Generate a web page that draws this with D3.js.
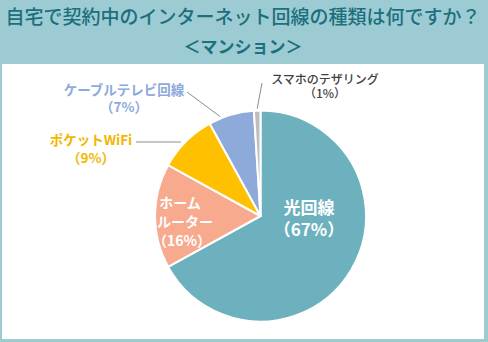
<!DOCTYPE html>
<html><head><meta charset="utf-8">
<script src="https://cdn.jsdelivr.net/npm/d3@7"></script>
<style>
html,body{margin:0;padding:0;background:#9ccbd3;}
svg{display:block;font-family:"Noto Sans CJK JP","Noto Sans",sans-serif;}
</style></head>
<body>
<svg id="c" width="488" height="342"></svg>
<script>
const categories = ["光回線", "ホームルーター", "ポケットWiFi", "ケーブルテレビ回線", "スマホのテザリング"];
const values = [67, 16, 9, 7, 1];
const colors = ["#6cb1bd", "#f8aa8f", "#ffc000", "#8eaadb", "#bfbfbf"];
const title = "自宅で契約中のインターネット回線の種類は何ですか？";
const subtitle = "＜マンション＞";

const svg = d3.select("#c");
svg.append("rect").attr("x",0).attr("y",0).attr("width",488).attr("height",342).attr("fill","#9ccbd3");
svg.append("rect").attr("x",2).attr("y",64).attr("width",482).attr("height",275).attr("fill","#ffffff");

svg.append("text").attr("x",243).attr("y",24).attr("text-anchor","middle")
  .attr("font-size",19).attr("font-weight",500).attr("fill","#1c6f7c").text(title);
svg.append("text").attr("x",243).attr("y",53).attr("text-anchor","middle")
  .attr("font-size",17).attr("font-weight",700).attr("fill","#1c6f7c").text(subtitle);

const cx = 260.5, cy = 216, r = 105.5;
const data = categories.map((c,i)=>({name:c, value:values[i], color:colors[i]}));
const pie = d3.pie().value(d=>d.value).sort(null);
const arc = d3.arc().innerRadius(0).outerRadius(r);
const g = svg.append("g").attr("transform",`translate(${cx},${cy})`);
const arcs = pie(data);
g.selectAll("path").data(arcs).enter().append("path")
  .attr("d",arc).attr("fill",d=>d.data.color)
  .attr("stroke","#ffffff").attr("stroke-width",2).attr("stroke-linejoin","round");

function label(x, y, lines, opts){
  lines.forEach((l,i)=>{
    svg.append("text").attr("x",x + (opts.dx && opts.dx[i]||0)).attr("y", y + i*opts.lh)
      .attr("text-anchor",opts.anchor||"middle")
      .attr("font-size",opts.size).attr("font-weight",opts.weight||700)
      .attr("fill",opts.color).text(l);
  });
}
const pct = v => "（" + v + "%）";

function edgePoint(a, frac){
  const ang = a.startAngle + (a.endAngle-a.startAngle)*frac;
  return [cx + Math.sin(ang)*r, cy - Math.cos(ang)*r];
}
const lineColor = "#8c8c8c";
{
  const p = edgePoint(arcs[2], 0.45);
  svg.append("polyline").attr("points",`136,142 ${p[0]-3},142`).attr("fill","none").attr("stroke",lineColor).attr("stroke-width",1);
}
{
  const p = edgePoint(arcs[3], 0.3);
  svg.append("polyline").attr("points",`187,92 ${p[0]-2},${p[1]-1}`).attr("fill","none").attr("stroke",lineColor).attr("stroke-width",1);
}
{
  const p = edgePoint(arcs[4], 0.5);
  svg.append("polyline").attr("points",`262,83 ${p[0]},${p[1]-2}`).attr("fill","none").attr("stroke",lineColor).attr("stroke-width",1);
}

label(309, 214, ["光回線", pct(values[0])], {size:17, color:"#ffffff", lh:22});
label(182, 208, ["ホーム", "ルーター", pct(values[1])], {size:14, color:"#ffffff", lh:19, dx:[-2,3,0]});
label(91, 145, ["ポケットWiFi", pct(values[2])], {size:13.5, color:"#f2b600", lh:18});
label(124, 95, ["ケーブルテレビ回線", pct(values[3])], {size:13.5, color:"#8eaadb", lh:17});
label(325, 84, ["スマホのテザリング", pct(values[4])], {size:12, color:"#404040", lh:14, weight:500});
</script>
</body></html>
